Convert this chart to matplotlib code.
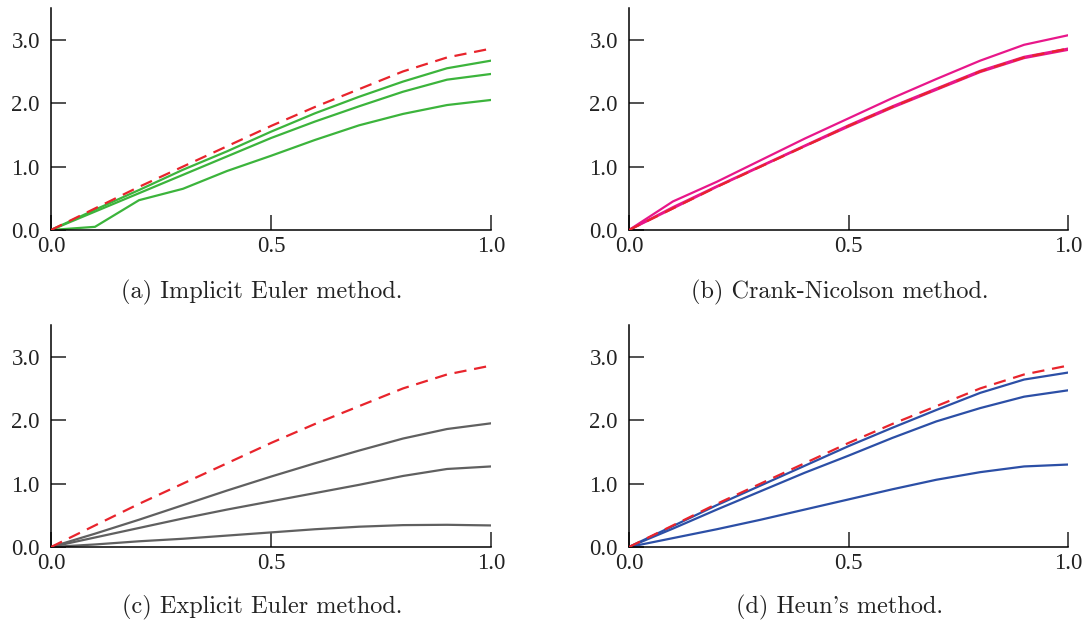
import matplotlib
matplotlib.use("Agg")
import matplotlib.pyplot as plt
import numpy as np

# grid and reference solution
x = [0.0, 0.1, 0.2, 0.3, 0.4, 0.5, 0.6, 0.7, 0.8, 0.9, 1.0]
exact = [0.0, 0.34, 0.68, 1.0, 1.32, 1.64, 1.94, 2.22, 2.5, 2.72, 2.86]

# implicit Euler
implicit_1 = [0.0, 0.32, 0.63, 0.95, 1.24, 1.55, 1.84, 2.1, 2.34, 2.55, 2.67]
implicit_2 = [0.0, 0.29, 0.58, 0.87, 1.16, 1.45, 1.71, 1.95, 2.18, 2.37, 2.46]
implicit_3 = [0.0, 0.05, 0.47, 0.65, 0.93, 1.17, 1.42, 1.65, 1.83, 1.97, 2.05]

# Crank-Nicolson
crank_1 = [0.0, 0.45, 0.76, 1.1, 1.44, 1.76, 2.08, 2.38, 2.67, 2.92, 3.07]
crank_2 = [0.0, 0.36, 0.69, 1.01, 1.33, 1.65, 1.95, 2.23, 2.51, 2.73, 2.86]
crank_3 = [0.0, 0.34, 0.68, 1.0, 1.32, 1.63, 1.93, 2.21, 2.49, 2.71, 2.84]

# explicit Euler
explicit_1 = [0.0, 0.21, 0.43, 0.66, 0.89, 1.11, 1.32, 1.52, 1.71, 1.86, 1.95]
explicit_2 = [0.0, 0.15, 0.30, 0.45, 0.59, 0.72, 0.85, 0.98, 1.12, 1.23, 1.27]
explicit_3 = [0.0, 0.04, 0.09, 0.13, 0.18, 0.23, 0.28, 0.32, 0.345, 0.35, 0.34]

# Heun
heun_1 = [0.0, 0.33, 0.66, 0.97, 1.28, 1.59, 1.88, 2.16, 2.43, 2.64, 2.75]
heun_2 = [0.0, 0.29, 0.59, 0.88, 1.17, 1.44, 1.72, 1.98, 2.19, 2.37, 2.47]
heun_3 = [0.0, 0.14, 0.28, 0.43, 0.59, 0.75, 0.91, 1.06, 1.18, 1.27, 1.30]

captions = ["(a) Implicit Euler method.", "(b) Crank-Nicolson method.",
            "(c) Explicit Euler method.", "(d) Heun's method."]

panels = [
    ([implicit_1, implicit_2, implicit_3], "#3cb43c"),
    ([crank_1, crank_2, crank_3], "#e8178a"),
    ([explicit_1, explicit_2, explicit_3], "#606060"),
    ([heun_1, heun_2, heun_3], "#2c4fa6"),
]

fig = plt.figure(figsize=(10.85, 6.26), dpi=100)

W, H = 1085.0, 626.0
lefts = [51, 629, 51, 629]
widths = [440, 439, 440, 439]
bottoms = [230, 230, 547, 547]
ax_h = 222

cap_x = [262, 840, 262, 840]
cap_y = [292, 292, 607, 607]

for i, (curves, col) in enumerate(panels):
    ax = fig.add_axes([lefts[i] / W, 1 - bottoms[i] / H, widths[i] / W, ax_h / H])
    for c in curves:
        ax.plot(x, c, color=col, lw=1.6, zorder=2)
    ax.plot(x, exact, color="#e8242c", lw=1.6, dashes=(5.5, 3.5), zorder=3)
    ax.set_xlim(0, 1)
    ax.set_ylim(0, 3.5)
    ax.spines["top"].set_visible(False)
    ax.spines["right"].set_visible(False)
    for s in ("left", "bottom"):
        ax.spines[s].set_linewidth(1.1)
    ax.set_xticks([0.0, 0.5, 1.0])
    ax.set_xticklabels(["0.0", "0.5", "1.0"])
    ax.set_yticks([0.0, 1.0, 2.0, 3.0])
    ax.set_yticklabels(["0.0", "1.0", "2.0", "3.0"])
    ax.tick_params(direction="in", length=10.5, width=1.1, labelsize=16.5,
                   color="#222222")
    ax.tick_params(axis="x", pad=4)
    ax.tick_params(axis="y", pad=8)
    for lab in ax.get_xticklabels() + ax.get_yticklabels():
        lab.set_fontfamily("Liberation Serif")
        lab.set_color("#222222")
    ax.patch.set_visible(False)
    fig.text(cap_x[i] / W, 1 - cap_y[i] / H, captions[i], ha="center",
             va="center", fontsize=17.5, family="cmr10", color="#222222")

fig.savefig("out.png", dpi=100)
